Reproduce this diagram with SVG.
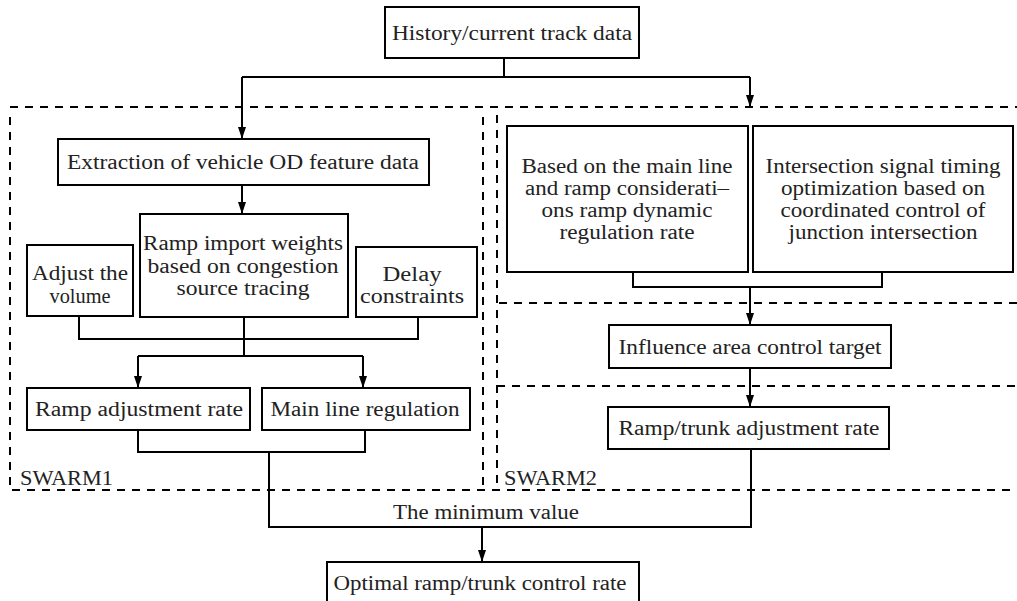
<svg xmlns="http://www.w3.org/2000/svg" width="1017" height="601" viewBox="0 0 1017 601">
<style>
.box{fill:#fff;stroke:#000;stroke-width:2}
.ln{fill:none;stroke:#000;stroke-width:2}
.arr{fill:none;stroke:#000;stroke-width:2;marker-end:url(#ah)}
.dash{fill:none;stroke:#000;stroke-width:2;stroke-dasharray:8 7}
text{font-family:"Liberation Serif","Times New Roman",serif;font-size:20px;fill:#222;text-anchor:middle}
.lbl{text-anchor:start}
</style>
<defs>
<marker id="ah" markerUnits="userSpaceOnUse" markerWidth="12" markerHeight="8" viewBox="0 0 12 8" refX="12" refY="4" orient="auto">
<path d="M0,0 L12,4 L0,8 z" fill="#000"/>
</marker>
</defs>
<g id="regions">
<path class="dash" d="M10,107 H1017"/>
<path class="dash" d="M10,117 V490 H1017"/>
<path class="dash" d="M483,117 V486"/>
<path class="dash" d="M497,115 V486"/>
<path class="dash" d="M1017,303 H497"/>
<path class="dash" d="M497,386 H1017"/>
<text class="lbl" x="20" y="485" textLength="93" lengthAdjust="spacingAndGlyphs">SWARM1</text>
<text class="lbl" x="504" y="485" textLength="93" lengthAdjust="spacingAndGlyphs">SWARM2</text>
</g>
<g id="connectors">
<path class="ln" d="M504,58 V77 M242,77 H750"/>
<path class="arr" d="M242,77 V139"/>
<path class="arr" d="M750,77 V107"/>
<path class="arr" d="M242,185 V214"/>
<path class="ln" d="M79,316 V339 H418 V317 M244,317 V356 M138,356 H363"/>
<path class="arr" d="M138,356 V388"/>
<path class="arr" d="M363,356 V388"/>
<path class="ln" d="M138,430 V452 H365 V430 M269,452 V527 H751 V449"/>
<path class="arr" d="M482,527 V562"/>
<path class="ln" d="M633,272 V287 H882 V272"/>
<path class="arr" d="M750,287 V325"/>
<path class="arr" d="M750,368 V407"/>
<text x="486" y="519" textLength="186" lengthAdjust="spacingAndGlyphs">The minimum value</text>
</g>
<g id="n-history">
<rect class="box" x="385" y="7" width="254" height="51"/>
<text x="512" y="40" textLength="240" lengthAdjust="spacingAndGlyphs">History/current track data</text>
</g>
<g id="n-extraction">
<rect class="box" x="58" y="139" width="371" height="46"/>
<text x="243" y="169" textLength="352" lengthAdjust="spacingAndGlyphs">Extraction of vehicle OD feature data</text>
</g>
<g id="n-ramp-import">
<rect class="box" x="140" y="214" width="208" height="103"/>
<text x="243" y="250" textLength="200" lengthAdjust="spacingAndGlyphs">Ramp import weights</text>
<text x="243" y="273" textLength="191" lengthAdjust="spacingAndGlyphs">based on congestion</text>
<text x="243" y="295" textLength="133" lengthAdjust="spacingAndGlyphs">source tracing</text>
</g>
<g id="n-adjust">
<rect class="box" x="27" y="245" width="106" height="71"/>
<text x="80" y="280" textLength="96" lengthAdjust="spacingAndGlyphs">Adjust the</text>
<text x="80" y="303" textLength="61" lengthAdjust="spacingAndGlyphs">volume</text>
</g>
<g id="n-delay">
<rect class="box" x="356" y="247" width="121" height="70"/>
<text x="412" y="281" textLength="59" lengthAdjust="spacingAndGlyphs">Delay</text>
<text x="412" y="303" textLength="104" lengthAdjust="spacingAndGlyphs">constraints</text>
</g>
<g id="n-ramp-adj">
<rect class="box" x="27" y="388" width="223" height="42"/>
<text x="139" y="416" textLength="208" lengthAdjust="spacingAndGlyphs">Ramp adjustment rate</text>
</g>
<g id="n-main-line">
<rect class="box" x="262" y="388" width="208" height="42"/>
<text x="365" y="416" textLength="189" lengthAdjust="spacingAndGlyphs">Main line regulation</text>
</g>
<g id="n-mainline-ramp">
<rect class="box" x="507" y="126" width="241" height="146"/>
<text x="627" y="173" textLength="211" lengthAdjust="spacingAndGlyphs">Based on the main line</text>
<text x="627" y="195" textLength="204" lengthAdjust="spacingAndGlyphs">and ramp considerati–</text>
<text x="627" y="217" textLength="171" lengthAdjust="spacingAndGlyphs">ons ramp dynamic</text>
<text x="627" y="239" textLength="135" lengthAdjust="spacingAndGlyphs">regulation rate</text>
</g>
<g id="n-intersection">
<rect class="box" x="753" y="126" width="260" height="146"/>
<text x="883" y="173" textLength="235" lengthAdjust="spacingAndGlyphs">Intersection signal timing</text>
<text x="883" y="195" textLength="204" lengthAdjust="spacingAndGlyphs">optimization based on</text>
<text x="883" y="217" textLength="205" lengthAdjust="spacingAndGlyphs">coordinated control of</text>
<text x="883" y="239" textLength="189" lengthAdjust="spacingAndGlyphs">junction intersection</text>
</g>
<g id="n-influence">
<rect class="box" x="609" y="325" width="282" height="43"/>
<text x="750" y="354" textLength="263" lengthAdjust="spacingAndGlyphs">Influence area control target</text>
</g>
<g id="n-ramp-trunk">
<rect class="box" x="608" y="407" width="281" height="42"/>
<text x="749" y="435" textLength="261" lengthAdjust="spacingAndGlyphs">Ramp/trunk adjustment rate</text>
</g>
<g id="n-optimal">
<rect class="box" x="327" y="562" width="312" height="50"/>
<text x="480" y="590" textLength="293" lengthAdjust="spacingAndGlyphs">Optimal ramp/trunk control rate</text>
</g>
</svg>
